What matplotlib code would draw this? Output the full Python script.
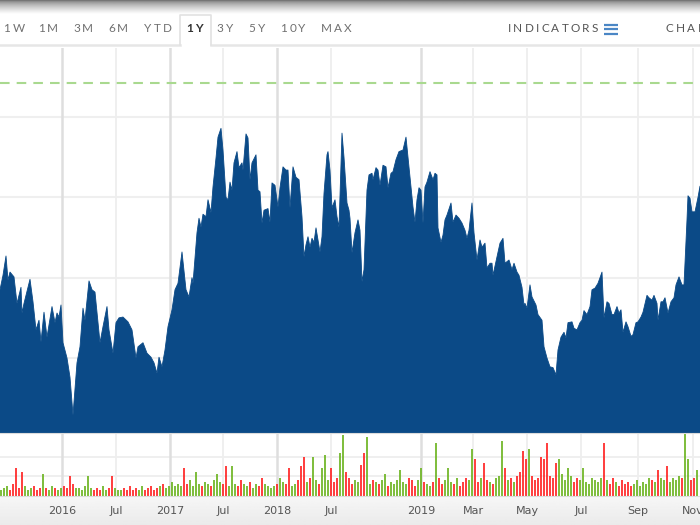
import matplotlib.pyplot as plt
import numpy as np
from matplotlib.font_manager import FontProperties
from matplotlib.textpath import TextToPath

# closing price trace (session index, price)
day = [0, 3, 6, 8, 10, 14, 17, 21, 22, 24, 30, 33, 36, 39, 41, 44, 47, 52, 55, 57,
       59, 61, 63, 67, 70, 73, 77, 80, 83, 85, 89, 92, 95, 100, 103, 107, 109, 113, 116, 119,
       123, 128, 132, 136, 138, 143, 147, 151, 154, 157, 159, 162, 165, 168, 172, 175, 178, 182, 186, 189,
       192, 193, 197, 199, 201, 203, 206, 208, 211, 213, 216, 218, 221, 223, 226, 228, 230, 232, 234, 237,
       239, 242, 243, 246, 248, 250, 252, 256, 258, 260, 262, 264, 268, 270, 272, 275, 278, 280, 283, 286,
       288, 290, 293, 296, 299, 302, 304, 306, 308, 310, 312, 314, 316, 318, 320, 322, 324, 327, 328, 330,
       332, 335, 337, 339, 342, 344, 347, 349, 350, 352, 355, 358, 360, 362, 364, 367, 369, 372, 373, 376,
       378, 380, 383, 386, 388, 391, 393, 396, 399, 403, 406, 408, 411, 413, 415, 417, 419, 421, 423, 425,
       427, 430, 433, 435, 437, 438, 441, 443, 445, 447, 451, 453, 456, 459, 462, 465, 467, 469, 472, 474,
       477, 480, 482, 485, 487, 490, 492, 493, 497, 500, 503, 505, 507, 509, 512, 514, 517, 519, 522, 524,
       525, 527, 530, 532, 536, 538, 542, 544, 547, 550, 553, 556, 558, 561, 564, 566, 568, 572, 574, 577,
       580, 582, 584, 587, 590, 592, 595, 598, 600, 602, 604, 607, 609, 612, 614, 617, 619, 621, 623, 626,
       628, 631, 633, 636, 638, 641, 643, 647, 649, 652, 654, 657, 658, 661, 663, 665, 668, 671, 674, 676,
       679, 682, 684, 687, 688, 690, 692, 695, 698, 700]
close = [48.5, 50.3, 52.7, 49.7, 50.7, 50.1, 46.8, 48.8, 45.6, 46.8, 49.8, 47.0, 43.5, 44.7, 42.0, 45.7, 42.6, 46.4, 44.4, 45.6,
         45.1, 46.6, 41.9, 40.0, 37.6, 32.9, 39.4, 41.4, 46.2, 44.7, 49.6, 48.5, 48.2, 41.9, 43.9, 46.4, 43.5, 40.6, 44.4, 45.0,
         45.1, 44.5, 43.5, 40.0, 41.4, 41.9, 40.6, 40.1, 39.4, 38.1, 40.1, 38.9, 41.0, 43.9, 46.0, 48.5, 49.3, 53.2, 48.5, 47.6,
         50.0, 49.3, 55.6, 57.4, 56.3, 57.9, 57.6, 59.7, 58.1, 61.3, 64.9, 67.5, 68.6, 65.9, 60.0, 59.7, 61.9, 60.9, 64.3, 65.7,
         63.7, 64.3, 63.4, 67.9, 67.4, 62.2, 64.3, 65.3, 60.9, 60.7, 56.8, 58.4, 58.6, 56.9, 61.8, 61.5, 58.8, 61.2, 63.8, 63.4,
         63.4, 58.7, 63.8, 62.5, 62.2, 57.6, 52.6, 54.1, 55.1, 53.8, 54.9, 54.4, 56.2, 54.7, 53.2, 55.1, 60.5, 65.3, 65.7, 63.4,
         58.7, 59.7, 57.6, 56.3, 68.0, 65.0, 59.3, 58.4, 57.4, 53.1, 55.6, 57.2, 55.9, 49.5, 51.0, 60.9, 62.8, 63.0, 62.2, 63.7,
         63.4, 61.5, 64.0, 63.8, 61.2, 63.0, 63.2, 64.7, 65.7, 65.9, 67.5, 65.0, 61.3, 58.8, 56.9, 59.7, 61.2, 60.9, 56.8, 61.3,
         61.9, 63.2, 62.2, 63.0, 62.8, 56.2, 54.4, 55.3, 57.2, 57.8, 59.3, 56.9, 57.8, 57.4, 56.8, 55.9, 54.9, 55.9, 59.3, 55.6,
         52.2, 54.7, 53.8, 54.3, 51.2, 51.8, 51.8, 50.3, 52.6, 54.3, 54.9, 51.8, 52.0, 52.2, 51.0, 51.8, 50.7, 50.3, 48.8, 46.6,
         46.8, 46.2, 49.1, 47.6, 46.6, 45.4, 44.7, 41.4, 40.0, 38.9, 38.8, 37.9, 41.0, 42.6, 43.2, 42.5, 44.4, 44.5, 43.7, 43.5,
         44.4, 44.7, 45.9, 45.4, 46.4, 48.5, 48.7, 49.3, 50.0, 50.7, 45.0, 47.0, 46.8, 45.4, 45.4, 46.4, 45.6, 46.0, 43.2, 44.5,
         43.9, 42.7, 42.9, 44.4, 44.5, 45.1, 45.7, 47.8, 47.5, 47.2, 47.8, 46.8, 44.7, 47.0, 47.0, 47.5, 45.6, 47.0, 47.5, 49.1,
         50.1, 49.1, 49.1, 57.2, 60.2, 59.9, 58.2, 58.2, 60.0, 61.4]

# volume (millions), one bar every third session starting at session 1
vol_day = list(range(1, 698, 3))
volume = [3, 4, 5, 3, 6, 14, 4, 12, 5, 3, 4, 5, 3, 4, 11, 4, 3, 5, 4, 3,
          4, 5, 4, 10, 6, 4, 4, 3, 5, 10, 4, 3, 4, 3, 5, 3, 4, 10, 4, 3,
          3, 4, 3, 5, 3, 4, 3, 5, 3, 4, 5, 3, 4, 5, 6, 4, 5, 7, 5, 6,
          5, 14, 6, 8, 5, 12, 6, 5, 7, 6, 5, 8, 11, 7, 6, 15, 5, 15, 6, 5,
          8, 6, 5, 7, 4, 6, 5, 9, 6, 5, 4, 5, 6, 9, 7, 6, 14, 5, 6, 8,
          15, 20, 7, 9, 20, 8, 6, 14, 21, 8, 14, 7, 9, 22, 31, 12, 9, 6, 8, 7,
          16, 22, 30, 6, 8, 7, 6, 8, 11, 5, 7, 6, 8, 13, 7, 6, 9, 8, 5, 8,
          14, 7, 6, 5, 7, 27, 9, 6, 8, 14, 7, 6, 9, 5, 7, 9, 8, 24, 19, 7,
          9, 17, 8, 7, 6, 9, 10, 28, 14, 8, 9, 7, 10, 12, 23, 19, 24, 10, 8, 9,
          20, 19, 27, 10, 9, 17, 19, 11, 8, 14, 10, 7, 9, 8, 14, 7, 6, 9, 8, 7,
          9, 27, 8, 6, 9, 7, 5, 8, 6, 7, 5, 6, 8, 5, 7, 6, 9, 8, 7, 13,
          9, 8, 15, 7, 9, 8, 10, 9, 32, 19, 8, 9, 13]

tick_day = [62, 116, 170, 223, 277, 331, 421, 473, 527, 581, 638, 693]
tick_lbl = ["2016", "Jul", "2017", "Jul", "2018", "Jul", "2019", "Mar", "May", "Jul", "Sep", "Nov"]
price_grid = [40, 50, 60, 70]
vol_grid = [10, 20]
target_level = 74.25

buttons = ["1W", "1M", "3M", "6M", "YTD", "1Y", "3Y", "5Y", "10Y", "MAX"]
button_x = [14, 48, 83, 118, 158, 194, 225, 257, 293, 336]

BLUE = "#0b4a87"
UP = "#6ab31d"
DOWN = "#ff1f1f"

W, H = 700, 525
fig = plt.figure(figsize=(7, 5.25), dpi=100, facecolor="white")

# pixel-space overlay for the toolbar and backgrounds
ov = fig.add_axes([0, 0, 1, 1], zorder=0)
ov.set_xlim(0, W)
ov.set_ylim(H, 0)
ov.axis("off")
shade = np.linspace(0, 1, 40) ** 0.6
ov.imshow(np.tile(shade[:, None], (1, 2)), cmap="gray", vmin=-0.7, vmax=1.0,
          extent=(0, W, 14, 0), aspect="auto")
ov.imshow(np.tile(np.linspace(0.965, 0.92, 20)[:, None], (1, 2)), cmap="gray", vmin=0, vmax=1,
          extent=(0, W, H, 497), aspect="auto")
ov.set_xlim(0, W)
ov.set_ylim(H, 0)

# toolbar
ov.plot([0, 180], [44.5, 44.5], color="#e6e6e6", lw=1.8)
ov.plot([211, W], [44.5, 44.5], color="#e6e6e6", lw=1.8)
ov.plot([180, 180, 211, 211], [44.5, 14.5, 14.5, 44.5], color="#e2e2e2", lw=1.2)

ttp = TextToPath()


def tracked(x, y, s, size, color, track, weight="normal", ha="center"):
    fp = FontProperties(family="Lato", size=size, weight=weight)
    widths = [ttp.get_text_width_height_descent(c, fp, ismath=False)[0] * 100 / 72 for c in s]
    total = sum(widths) + track * (len(s) - 1)
    cx = x - total / 2 if ha == "center" else x
    for c, w in zip(s, widths):
        ov.text(cx, y, c, fontproperties=fp, color=color, ha="left", va="center")
        cx += w + track


for lbl, bx in zip(buttons, button_x):
    if lbl == "1Y":
        tracked(bx, 29, lbl, 8.5, "#333333", 2.0, weight="bold")
    else:
        tracked(bx, 29, lbl, 8.5, "#707070", 2.2)
tracked(553, 29, "INDICATORS", 8.5, "#555555", 2.2)
for yy in (24.5, 29, 33.5):
    ov.plot([604, 618], [yy, yy], color="#4a86c5", lw=1.6, solid_capstyle="butt")
tracked(666, 29, "CHART", 8.5, "#555555", 2.2, ha="left")

# price panel
ax = fig.add_axes([0, 1 - 433 / H, 1, 385 / H], zorder=2)
ax.set_facecolor("white")
ymin, ymax = 30.66, 78.6
ax.set_xlim(0, 700)
ax.set_ylim(ymin, ymax)
for g in price_grid:
    ax.axhline(g, color="#efefef", lw=1.5, zorder=0)
ax.fill_between(day, close, ymin, color=BLUE, lw=0.6, edgecolor=BLUE, zorder=2)
ax.axhline(target_level, color="#a9d98f", lw=1.5, dashes=(4.6, 3.4), zorder=3)

# volume panel
vx = fig.add_axes([0, 1 - 496 / H, 1, 63 / H], zorder=2, sharex=ax)
vx.set_facecolor("white")
vx.set_ylim(0, 32)
for g in vol_grid:
    vx.axhline(g, color="#ececec", lw=1.2, zorder=0)
ref = np.interp(vol_day, day, close)
chg = np.diff(ref, prepend=ref[0])
cols = [UP if c >= 0 else DOWN for c in chg]
vx.bar(vol_day, volume, width=2.0, color=cols, alpha=0.85, lw=0, zorder=2)

for a in (ax, vx):
    for t, l in zip(tick_day, tick_lbl):
        year = l.isdigit()
        a.axvline(t, color="#dedede" if year else "#eeeeee", lw=1.8 if year else 1.3, zorder=1)
    a.set_yticks([])
    for s in a.spines.values():
        s.set_visible(False)
ax.tick_params(axis="x", bottom=False, labelbottom=False)
vx.spines["top"].set_visible(True)
vx.spines["top"].set_color("#dcdcdc")
vx.spines["bottom"].set_visible(True)
vx.spines["bottom"].set_color("#dcdcdc")
vx.set_xticks(tick_day)
vx.set_xticklabels(tick_lbl)
vx.tick_params(axis="x", length=0, pad=7, labelsize=8, labelcolor="#555555")

fig.savefig("out.png", dpi=100, facecolor="white")
